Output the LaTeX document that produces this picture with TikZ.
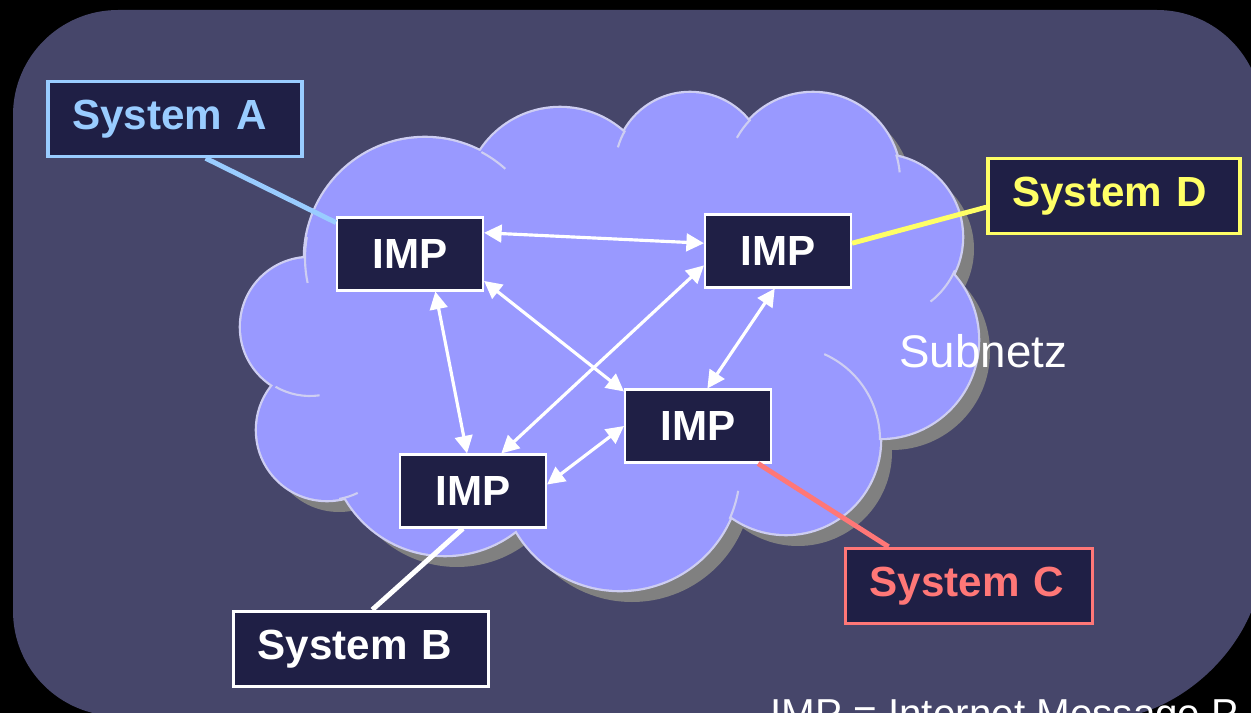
\documentclass[tikz,border=0pt]{standalone}
\usepackage{fontspec}
\setmainfont{Liberation Sans}
\usepackage{xcolor}
\usetikzlibrary{arrows.meta,positioning}

\definecolor{bgpanel}{RGB}{70,70,106}
\definecolor{impnavy}{RGB}{31,31,69}
\definecolor{cloudblue}{RGB}{153,153,255}
\definecolor{cloudedge}{RGB}{206,206,242}
\definecolor{cloudshadow}{RGB}{128,128,128}
\definecolor{colA}{RGB}{153,204,255}
\definecolor{colD}{RGB}{255,255,102}
\definecolor{colC}{RGB}{255,119,119}

\begin{document}
\begin{tikzpicture}[
      x=0.02cm, y=-0.02cm,
      impbox/.style={
         draw=white,
         line width=1.2pt,
         fill=impnavy,
         text=white,
         inner sep=0pt,
         minimum width=2.92cm,
         minimum height=1.46cm,
         font=\fontsize{24}{28}\selectfont\bfseries},
      sysbox/.style={
         line width=2pt,
         fill=impnavy,
         inner xsep=0.48cm,
         inner ysep=0pt,
         minimum height=1.5cm,
         align=left,
         font=\fontsize{24}{28}\selectfont\bfseries},
      imparrow/.style={draw=white, line width=1.8pt,
         {Triangle[length=10pt,width=10pt]}-{Triangle[length=10pt,width=10pt]}},
      sysline/.style={line width=2.8pt},
      lobeedge/.style={draw=cloudedge, line width=1.2pt}
      ]
\useasboundingbox (0,0) rectangle (1251,713);
\fill[black] (0,0) rectangle (1251,713);
\fill[bgpanel] (13,115) arc[start angle=180,end angle=270,radius=105] -- (1157,10)
   arc[start angle=270,end angle=360,radius=105] -- (1262,560)
   .. controls (1262,630) and (1200,700) .. (1130,716) -- (118,716)
   arc[start angle=90,end angle=180,radius=105] -- cycle;

% cloud: shadow, outline, body
\foreach \cx/\cy/\r in {425/258/120, 560/203/95, 690/168/75, 813/180/87,
      880/237/82, 880/340/98, 786/440/94, 620/470/120, 445/440/115,
      327/430/70, 310/327/69}
   \fill[cloudshadow, shift={(12,12)}] (\cx,\cy) circle[radius=\r];
\fill[cloudshadow, shift={(12,12)}] (425,258) -- (560,203) -- (690,168) -- (813,180)
   -- (880,237) -- (880,340) -- (786,440) -- (620,470) -- (445,440) -- (327,430)
   -- (310,327) -- cycle;
\foreach \cx/\cy/\r in {425/258/120, 560/203/95, 690/168/75, 813/180/87,
      880/237/82, 880/340/98, 786/440/94, 620/470/120, 445/440/115,
      327/430/70, 310/327/69}
   \draw[cloudedge, line width=2.6pt] (\cx,\cy) circle[radius=\r];
\foreach \cx/\cy/\r in {425/258/120, 560/203/95, 690/168/75, 813/180/87,
      880/237/82, 880/340/98, 786/440/94, 620/470/120, 445/440/115,
      327/430/70, 310/327/69}
   \fill[cloudblue] (\cx,\cy) circle[radius=\r];
\fill[cloudblue] (425,258) -- (560,203) -- (690,168) -- (813,180)
   -- (880,237) -- (880,340) -- (786,440) -- (620,470) -- (445,440) -- (327,430)
   -- (310,327) -- cycle;
\foreach \cx/\cy/\r/\a/\b in {425/258/120/-62/-48, 425/258/120/190/168,
      690/168/75/196/210, 813/180/87/209/224, 813/180/87/-17/-5,
      880/237/82/24/52, 786/440/94/-66/0, 620/470/120/10/24,
      327/430/70/64/80, 310/327/69/82/120}
   \draw[lobeedge] (\cx,\cy) ++(\a:\r) arc[start angle=\a, end angle=\b, radius=\r];

\node[anchor=base west, inner sep=0pt, text=white, font=\fontsize{26}{30}\selectfont] (subnet) at (899,367) {Subnetz};

\node[impbox] (imp1) at (410,254) {IMP};
\node[impbox] (imp2) at (778,251) {IMP};
\node[impbox] (imp3) at (698,426) {IMP};
\node[impbox] (imp4) at (473,491) {IMP};

\node[sysbox, draw=colA, text=colA, text width=4.12cm] (sysA) at (175,119) {System A};
\node[sysbox, draw=colD, text=colD, text width=4.08cm] (sysD) at (1114,196) {System D};
\node[sysbox, draw=colC, text=colC, text width=3.98cm] (sysC) at (969,586) {System C};
\node[sysbox, draw=white, text=white, text width=4.14cm] (sysB) at (361,649) {System B};

\draw[sysline, colA] (sysA.308) -- (imp1.157);
\draw[sysline, colD] (imp2.6) -- (sysD.185);
\draw[sysline, colC] (imp3.328) -- (sysC.154);
\draw[sysline, white] (imp4.255) -- (sysB.74);

\foreach \i/\j in {% start/end
      imp1.16/imp2.174, imp1.340/imp3.155, imp1.304/imp4.99,
      imp2.191/imp4.53, imp2.265/imp3.76, imp3.180/imp4.5}
   \draw[imparrow] (\i) -- (\j);

\node[anchor=base west, inner sep=0pt, text=white, font=\fontsize{23}{27}\selectfont] (legend) at (770,727) {IMP = Internet Message P};
\end{tikzpicture}
\end{document}
